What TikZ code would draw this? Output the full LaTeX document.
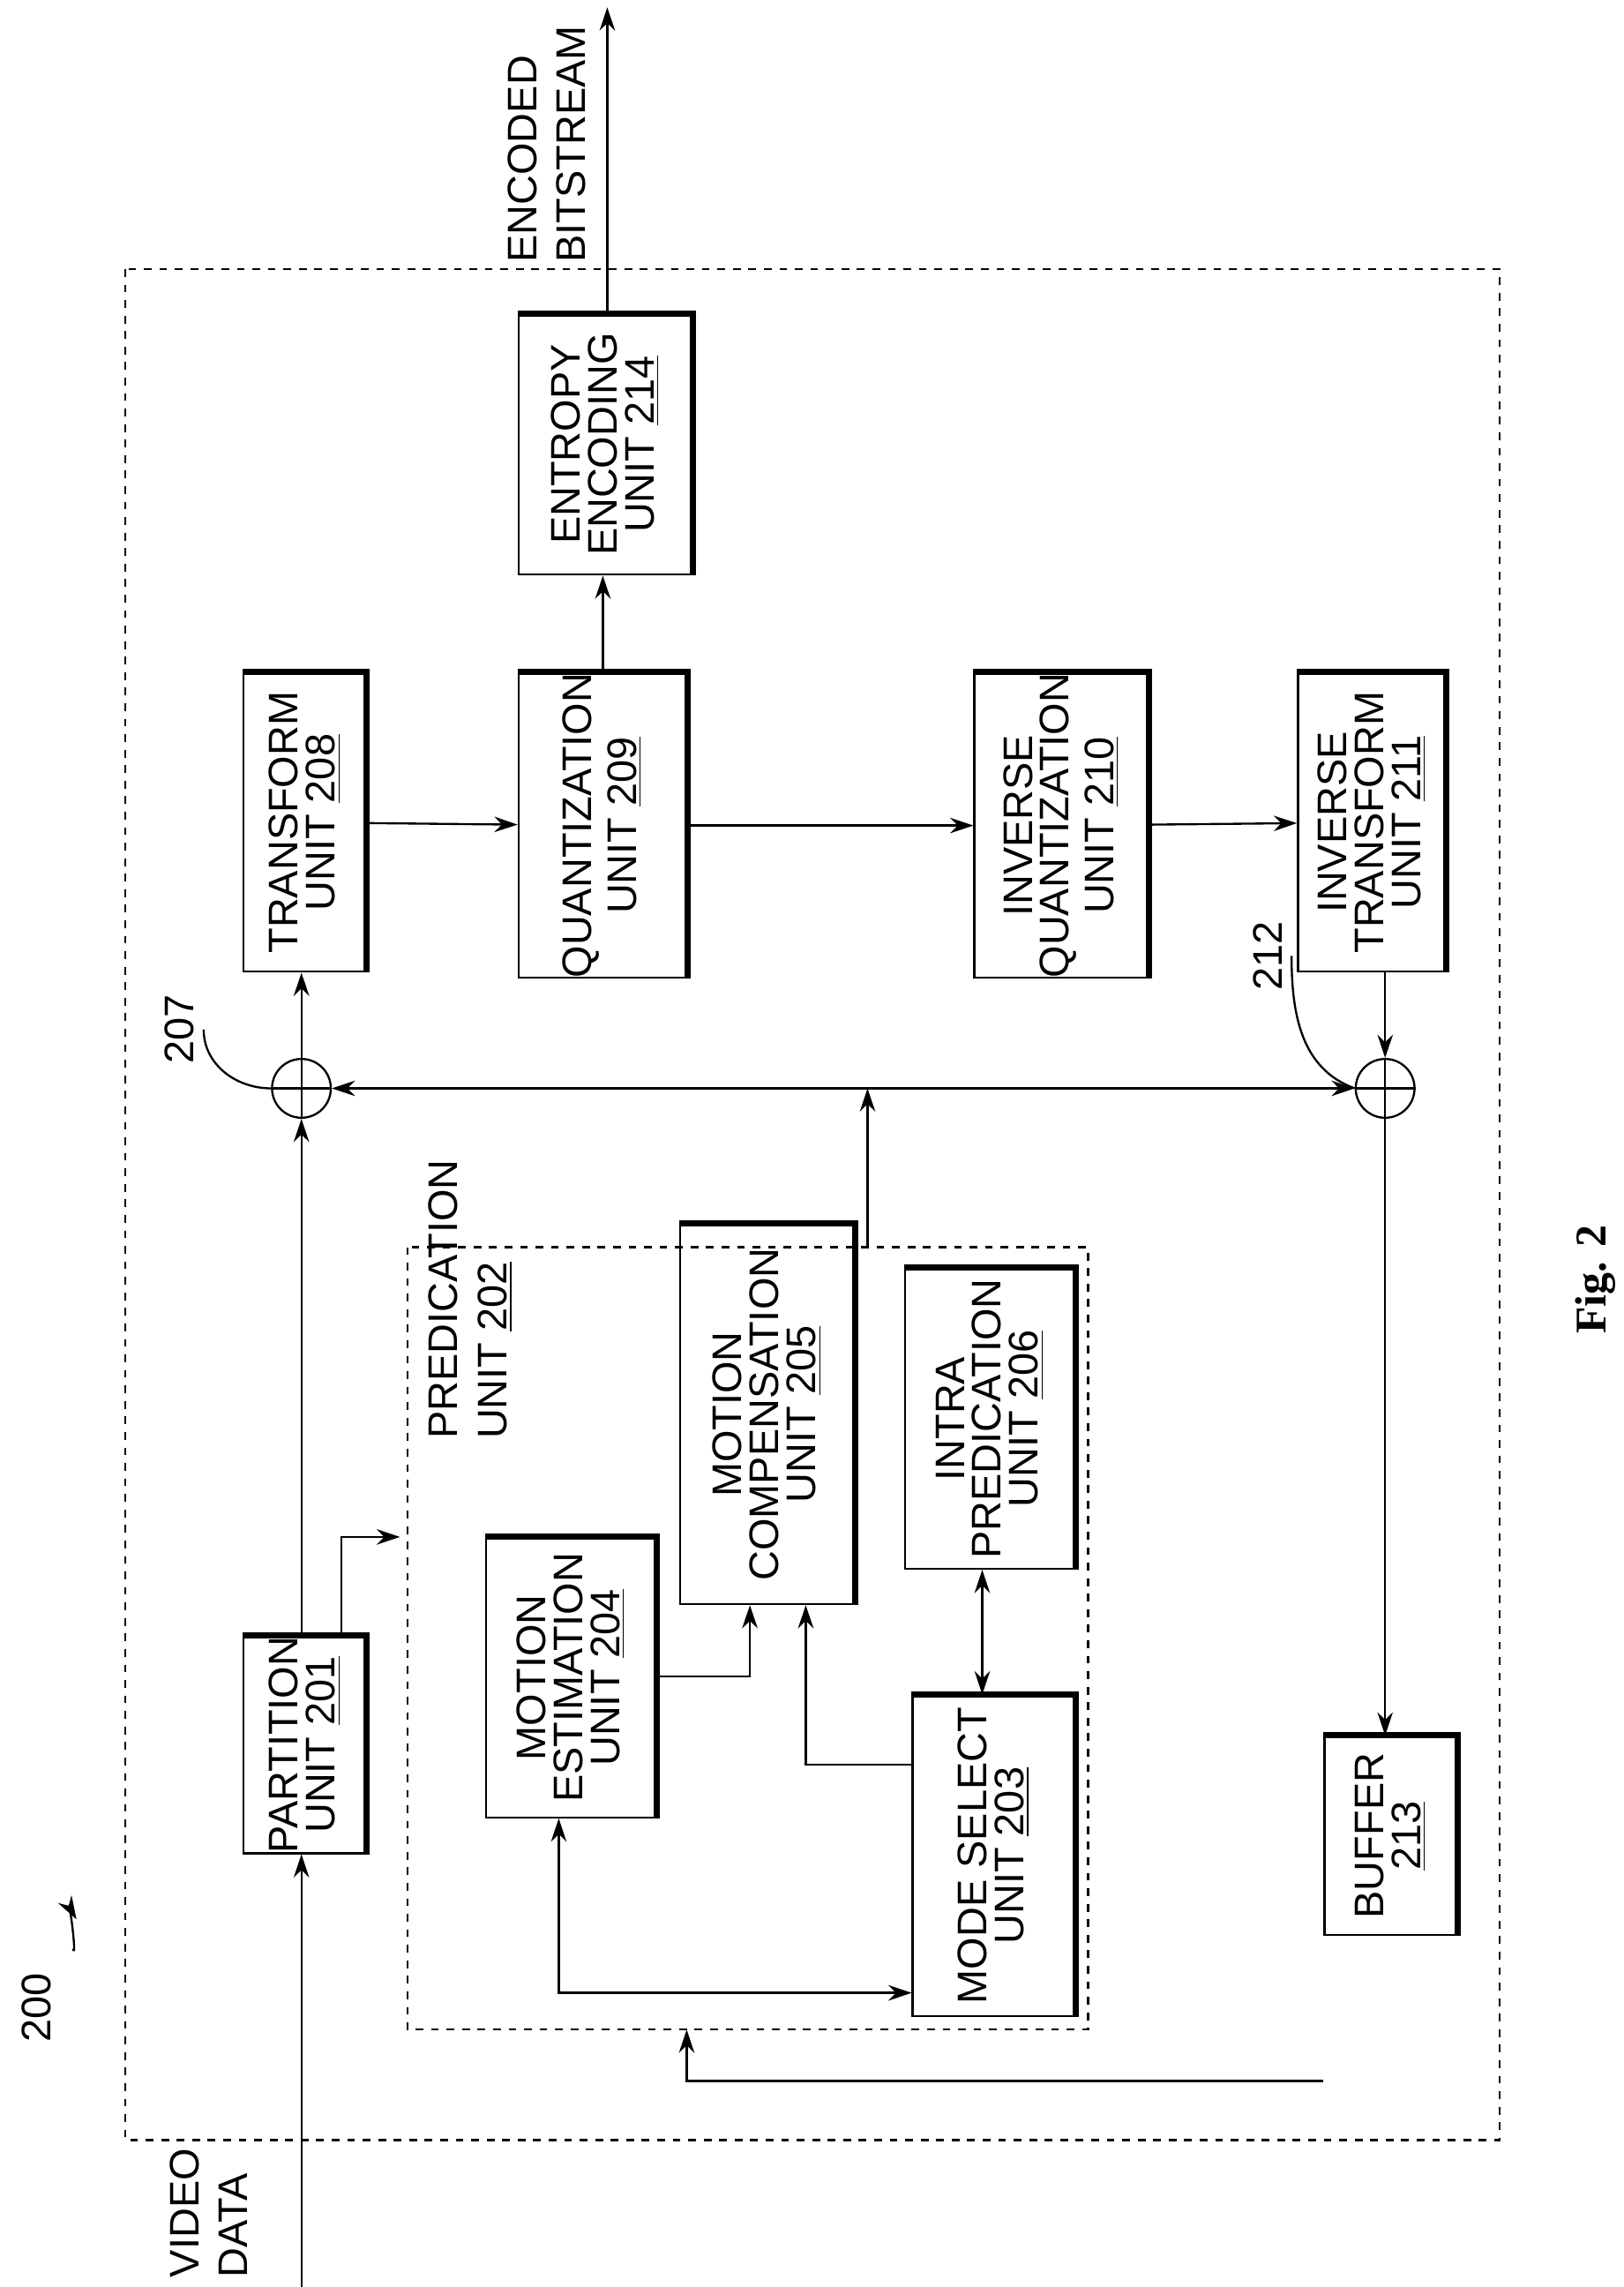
\documentclass[tikz,border=0pt]{standalone}
\usepackage{fontspec}
\setmainfont{Liberation Sans}
\newfontfamily\figfont{Liberation Serif}
\usetikzlibrary{arrows.meta}
\newcommand{\rt}[1]{\rotatebox{90}{\shortstack{#1}}}
\begin{document}
\begin{tikzpicture}[x=0.02cm,y=-0.02cm,line width=0.8pt,>={Stealth[length=9pt,width=6pt]},
  font=\fontsize{16}{19}\selectfont,
  blk/.style={draw,inner sep=0pt,anchor=north west},
  sum/.style={draw,circle,minimum size=0.8cm,inner sep=0pt}]
\useasboundingbox (0,0) rectangle (1104,1555);
% frames
\draw[dashed] (85,183) rectangle (1020,1455);
\draw[dashed] (277,848) rectangle (740,1380);
% blocks
\node[blk,minimum width=1.66cm,minimum height=2.12cm] (part) at (165,1112) {\rt{PARTITION\\UNIT \underline{201}}};
\node[blk,minimum width=2.3cm,minimum height=3.8cm] (me) at (330,1045) {\rt{MOTION\\ESTIMATION\\UNIT \underline{204}}};
\node[blk,minimum width=2.36cm,minimum height=5.16cm] (mc) at (462,832) {\rt{MOTION\\COMPENSATION\\UNIT \underline{205}}};
\node[blk,minimum width=2.3cm,minimum height=4.08cm] (intra) at (615,862) {\rt{INTRA\\PREDICATION\\UNIT \underline{206}}};
\node[blk,minimum width=2.2cm,minimum height=4.36cm] (mode) at (620,1152) {\rt{MODE SELECT\\UNIT \underline{203}}};
\node[blk,minimum width=1.8cm,minimum height=2.7cm] (buf) at (900,1180) {\rt{BUFFER\\\underline{213}}};
\node[blk,minimum width=1.66cm,minimum height=4.06cm] (tr) at (165,457) {\rt{TRANSFORM\\UNIT \underline{208}}};
\node[blk,minimum width=2.28cm,minimum height=4.06cm] (q) at (352,457) {\rt{QUANTIZATION\\UNIT \underline{209}}};
\node[blk,minimum width=2.36cm,minimum height=4.06cm] (iq) at (662,457) {\rt{INVERSE\\QUANTIZATION\\UNIT \underline{210}}};
\node[blk,minimum width=2.0cm,minimum height=4.06cm] (it) at (882,457) {\rt{INVERSE\\TRANSFORM\\UNIT \underline{211}}};
\node[blk,minimum width=2.36cm,minimum height=3.54cm] (ent) at (352,213) {\rt{ENTROPY\\ENCODING\\UNIT \underline{214}}};
% shadow edges
\foreach \n in {part,me,mc,intra,mode,buf,tr,q,iq,it,ent}
  \draw[line width=2.4pt] (\n.north west) -- (\n.north east) -- (\n.south east);
\node[sum] (s1) at (205,740) {};
\node[sum] (s2) at (942,740) {};
\draw (s1.north) -- (s1.south) (s1.west) -- (s1.east);
\draw (s2.north) -- (s2.south) (s2.west) -- (s2.east);
% labels
\node[rotate=90] (l207) at (122,700) {207};
\draw (l207.south) to[out=-90,in=180] (s1.west);
\node[rotate=90] (l212) at (862,650) {212};
\node[rotate=90] (l200) at (25,1365) {200};
\coordinate (c200) at (52,1305);
\draw[->] (l200.south) ++(8,-40) to[out=-70,in=120] (c200);
\draw (l212.south) to[out=-90,in=160] (s2.west);
\node[rotate=90,align=left,anchor=south west] (vid) at (175,1555) {VIDEO\\DATA};
\node[rotate=90,align=left,anchor=south west] (bits) at (405,185) {ENCODED\\BITSTREAM};
\node[rotate=90,align=left,anchor=north west] (pu) at (285,985) {PREDICATION\\UNIT \underline{202}};
\node[rotate=90,font=\figfont\bfseries\fontsize{17}{20}\selectfont] (fig) at (1085,870) {Fig. 2};
% connectors
\coordinate (vin) at (205,1555);
\coordinate (out) at (413,5);
\draw[->] (vin) -- (part.south -| vin);
\draw[->] (part.north -| s1) -- (s1.south);
\draw[->] (s1.north) -- (tr.south -| s1);
\draw[->] ([xshift=0.5cm]part.north) |- (272,1045);
\draw[->] (tr) -- (q);
\draw[->] (q) -- (iq);
\draw[->] (iq) -- (it);
\draw[->] (q.north -| 410,0) -- (ent.south -| 410,0);
\draw[->] (ent.north -| out) -- (out);
\draw[->] (it.south -| s2) -- (s2.north);
\draw[<->] (s1.east) -- (s2.west);
\draw[->] (590,848) -- (590,740);
\draw[->] (s2.south) -- (buf.north -| s2);
\draw[->] (buf.west |- 0,1415) -| (467,1380);
\draw[->] (me.east |- 0,1140) -| (mc.south -| 510,0);
\draw[->] (mode.west |- 0,1200) -| (mc.south -| 548,0);
\draw[<->] (me.south -| 380,0) |- (mode.west |- 0,1355);
\draw[<->] (intra.south -| 668,0) -- (mode.north -| 668,0);
\end{tikzpicture}
\end{document}
